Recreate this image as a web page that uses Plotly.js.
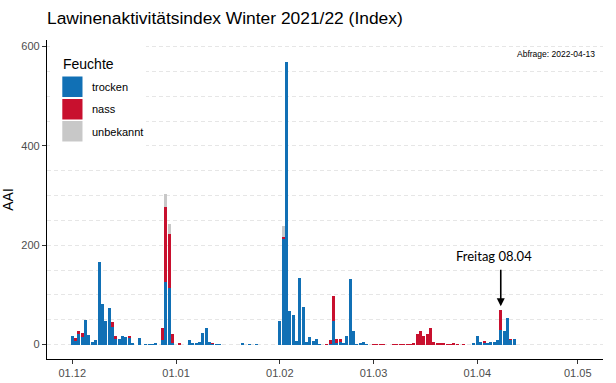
<!DOCTYPE html>
<html><head><meta charset="utf-8">
<script src="https://cdn.plot.ly/plotly-3.0.1.min.js"></script>
<style>html,body{margin:0;padding:0;background:#fff}#chart{width:616px;height:383px}</style>
</head><body><div id="chart"></div>
<script>
// ---- data ----
const dates = [
 '2021-12-01','2021-12-02','2021-12-03','2021-12-04','2021-12-05','2021-12-06','2021-12-07','2021-12-08',
 '2021-12-09','2021-12-10','2021-12-11','2021-12-12','2021-12-13','2021-12-14','2021-12-15','2021-12-16',
 '2021-12-17','2021-12-18','2021-12-19','2021-12-21','2021-12-23','2021-12-24','2021-12-25','2021-12-26',
 '2021-12-28','2021-12-29','2021-12-30','2021-12-31',
 '2022-01-02','2022-01-05','2022-01-06','2022-01-07','2022-01-08','2022-01-09','2022-01-10','2022-01-11',
 '2022-01-12','2022-01-13','2022-01-14','2022-01-21','2022-01-23','2022-01-25',
 '2022-02-01','2022-02-02','2022-02-03','2022-02-04','2022-02-05','2022-02-06','2022-02-07','2022-02-08',
 '2022-02-09','2022-02-10','2022-02-11','2022-02-12','2022-02-13','2022-02-15','2022-02-16','2022-02-17',
 '2022-02-18','2022-02-19','2022-02-20','2022-02-21','2022-02-22','2022-02-23','2022-02-24','2022-02-25',
 '2022-02-26','2022-02-27',
 '2022-03-01','2022-03-02','2022-03-03','2022-03-04','2022-03-07','2022-03-08','2022-03-09','2022-03-10',
 '2022-03-11','2022-03-12','2022-03-13','2022-03-14','2022-03-15','2022-03-16','2022-03-17','2022-03-18',
 '2022-03-19','2022-03-20','2022-03-21','2022-03-22','2022-03-23','2022-03-24','2022-03-25','2022-03-26',
 '2022-03-28','2022-03-31',
 '2022-04-01','2022-04-02','2022-04-03','2022-04-04','2022-04-05','2022-04-06','2022-04-07','2022-04-08',
 '2022-04-09','2022-04-10','2022-04-11','2022-04-12'
];
const trocken = [
 18,7,21,15,50,19,6,10,
 166,81,47,73,35,12,12,18,
 15,14,4,13,2,2,2,3,
 9,126,114,3,
 0,9,3,3,5,23,33,5,
 1,1,1,3,2,2,
 47,212,569,67,59,8,133,76,
 6,15,7,11,2,0,2,47,
 4,5,4,18,131,28,2,4,
 6,2,
 0,0,0,0,0,0,0,0,
 0,0,0,0,0,0,0,0,
 0,0,0,0,0,0,0,0,
 0,3,
 18,5,3,4,5,5,10,29,
 27,54,9,12
];
const nass = [
 0,6,7,9,0,0,0,0,
 0,0,0,0,10,6,0,0,
 0,4,0,0,0,0,0,0,
 25,151,108,19,
 4,0,0,0,0,0,0,0,
 2,1,1,0,0,0,
 0,4,0,0,0,0,0,0,
 0,0,0,0,0,2,8,50,
 8,7,0,0,0,0,0,0,
 0,0,
 2,2,2,2,2,2,2,2,
 2,2,3,22,28,17,22,34,
 6,3,3,3,2,2,3,2,
 2,0,
 0,0,5,0,0,0,0,40,
 0,0,3,0
];
const unbekannt = [
 0,0,0,0,0,0,0,0,
 0,0,0,0,0,0,0,0,
 0,0,0,0,0,0,0,0,
 0,27,21,0,
 0,0,0,0,0,0,0,0,
 0,0,0,0,0,0,
 0,22,0,0,0,0,0,0,
 0,0,0,0,0,0,0,0,
 0,0,0,0,0,0,0,0,
 0,0,
 0,0,0,0,0,0,0,0,
 0,0,0,0,0,0,0,0,
 0,0,0,0,0,0,0,0,
 0,0,
 0,0,0,0,0,0,0,0,
 0,0,0,0
];
const seriesNames = ['trocken', 'nass', 'unbekannt'];
const tickDates = ['2021-12-01','2022-01-01','2022-02-01','2022-03-01','2022-04-01','2022-05-01'];
const tickLabels = ['01.12','01.01','01.02','01.03','01.04','01.05'];
const yTicks = [0, 200, 400, 600];
const titleText = 'Lawinenaktivitätsindex Winter 2021/22 (Index)';
const queryText = 'Abfrage: 2022-04-13';
const legendTitle = 'Feuchte';
const markDate = '2022-04-08';
const markText = 'Freitag 08.04';

// ---- styling / layout ----
const colors = ['#1170b5', '#c8102e', '#c8c8c8'];
const FONT = 'Liberation Sans, Arial, sans-serif';
const W = 616, H = 383;
const M = {l: 47, r: 13, t: 40, b: 24};
const PW = W - M.l - M.r, PH = H - M.t - M.b;
const px = x => (x - M.l) / PW;
const py = y => (H - M.b - y) / PH;
const DAY = 86400000;

const series = [trocken, nass, unbekannt];
const traces = series.map((vals, i) => ({
  type: 'bar', x: dates, y: vals, name: seriesNames[i],
  marker: {color: colors[i], line: {width: 0}},
  width: 0.9 * DAY, showlegend: false, hoverinfo: 'x+y+name'
}));

const shapes = [
  {type: 'rect', xref: 'paper', yref: 'paper', x0: px(50), x1: px(146), y0: py(150), y1: py(42),
   fillcolor: '#ffffff', line: {width: 0}, layer: 'above'}
];
const annotations = [
  {xref: 'paper', yref: 'paper', x: px(61), y: py(63.5), xanchor: 'left', yanchor: 'middle',
   text: legendTitle, showarrow: false, font: {family: FONT, size: 14, color: '#000'}}
];
const keyTop = [76.5, 99, 121];
seriesNames.forEach((n, i) => {
  shapes.push({type: 'rect', xref: 'paper', yref: 'paper', x0: px(62.3), x1: px(82.5),
    y0: py(keyTop[i] + 20.5), y1: py(keyTop[i]), fillcolor: colors[i], line: {width: 0}, layer: 'above'});
  annotations.push({xref: 'paper', yref: 'paper', x: px(89.5), y: py(keyTop[i] + 10.5),
    xanchor: 'left', yanchor: 'middle', text: n, showarrow: false,
    font: {family: FONT, size: 11, color: '#000'}});
});
annotations.push({xref: 'paper', yref: 'paper', x: px(597), y: py(54), xanchor: 'right', yanchor: 'middle',
  text: queryText, showarrow: false, font: {family: FONT, size: 8.5, color: '#000'}});
annotations.push({xref: 'paper', yref: 'paper', x: px(493.5), y: py(256), xanchor: 'center', yanchor: 'middle',
  text: markText, showarrow: false, font: {family: 'Lato, Open Sans, sans-serif', size: 13, color: '#000'}});
annotations.push({x: markDate, y: 77, xref: 'x', yref: 'y', text: '', showarrow: true,
  ax: 0, ay: -38, arrowhead: 2, arrowsize: 1, arrowwidth: 1.6, arrowcolor: '#000', standoff: 0});

const layout = {
  width: W, height: H, margin: M,
  paper_bgcolor: '#fff', plot_bgcolor: '#fff',
  barmode: 'stack', bargap: 0,
  showlegend: false,
  title: {text: titleText, x: 0, xref: 'paper', xanchor: 'left', y: 1 - 18 / H, yref: 'container',
    yanchor: 'middle', font: {family: FONT, size: 17.4, color: '#000'}},
  xaxis: {
    type: 'date', range: ['2021-11-23 11:00', '2022-05-08 13:00'],
    tickmode: 'array', tickvals: tickDates, ticktext: tickLabels,
    showgrid: false, zeroline: false,
    showline: true, linecolor: '#000', linewidth: 1.1,
    ticks: 'outside', ticklen: 4, tickcolor: '#333', tickwidth: 1,
    tickfont: {family: FONT, size: 11, color: '#4d4d4d'}
  },
  yaxis: {
    range: [-29.2, 613.2], tickmode: 'array', tickvals: yTicks,
    showgrid: true, gridcolor: '#e6e6e6', gridwidth: 1, griddash: '4px,3px',
    minor: {dtick: 50, tick0: 0, showgrid: true, gridcolor: '#e6e6e6', gridwidth: 1, griddash: '4px,3px', ticks: ''},
    zeroline: false,
    showline: true, linecolor: '#000', linewidth: 1.1,
    ticks: 'outside', ticklen: 4, tickcolor: '#333', tickwidth: 1,
    tickfont: {family: FONT, size: 11, color: '#4d4d4d'},
    title: {text: 'AAI', standoff: 9, font: {family: FONT, size: 14, color: '#000'}}
  },
  shapes: shapes,
  annotations: annotations
};

Plotly.newPlot('chart', traces, layout, {displayModeBar: false, staticPlot: true});
</script>
</body></html>
